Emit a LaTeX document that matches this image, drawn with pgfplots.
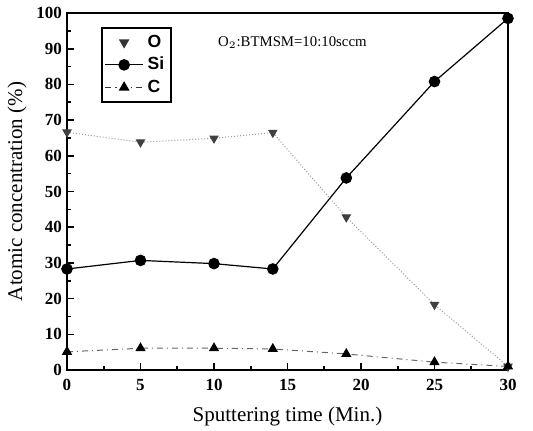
\documentclass[border=0pt]{standalone}
\usepackage{fontspec}
\setmainfont{Liberation Serif}
\newfontfamily\legfont{Liberation Sans}
\usepackage{pgfplots}
\pgfplotsset{compat=1.18}
\begin{document}
\begin{tikzpicture}
\begin{axis}[
  scale only axis,
  width=220.5pt, height=178.5pt,
  xmin=0, xmax=30, ymin=0, ymax=100,
  xtick={0,5,...,30}, ytick={0,10,...,100},
  minor x tick num=1, minor y tick num=1,
  xtick pos=bottom, ytick pos=left,
  tick align=inside,
  major tick length=3.5pt, minor tick length=2pt,
  axis line style={line width=1pt},
  every tick/.style={line width=0.8pt, black},
  /pgf/number format/assume math mode=true,
  tick label style={font=\fontsize{8.5}{10}\selectfont\bfseries},
  xticklabel style={yshift=-1pt},
  yticklabel style={xshift=1pt},
  label style={font=\fontsize{10.5}{12}\selectfont},
  xlabel={Sputtering time (Min.)},
  ylabel={Atomic concentration (\%)},
  xlabel style={yshift=-1.5pt},
  ylabel style={yshift=-2pt},
  legend style={at={(rel axis cs:0.077,0.961)}, anchor=north west,
    draw=black, line width=0.8pt, font=\fontsize{8.8}{10}\selectfont\legfont\bfseries,
    inner sep=1.5pt, row sep=-0.5pt, legend cell align=left,
    /tikz/every even column/.append style={column sep=1pt}},
  legend image code/.code={\draw[mark repeat=2,mark phase=2,#1] plot coordinates {(0cm,0cm) (0.33cm,0cm) (0.66cm,0cm)};},
  clip=false,
]
% legend entries
\addlegendimage{only marks, mark=triangle*, mark size=2.3pt, mark options={rotate=180, fill=black!80, draw=black!80}}
\addlegendentry{O}
\addlegendimage{black, line width=0.6pt, mark=*, mark size=2.6pt}
\addlegendentry{Si}
\addlegendimage{black!80, line width=0.6pt, dash dot, mark=triangle*, mark size=2.5pt, mark options={solid, fill=black, draw=black}}
\addlegendentry{C}

% O
\addplot[forget plot, black!40, line width=0.5pt, densely dotted, mark=triangle*, mark size=2.3pt,
  mark options={solid, rotate=180, fill=black!75, draw=black!75}]
  coordinates {(0,66.6) (5,63.8) (10,64.9) (14,66.5) (19,42.8) (25,18.3) (30,1.0)};
% Si
\addplot[forget plot, black, line width=0.6pt, mark=*, mark size=2.6pt]
  coordinates {(0,28.3) (5,30.7) (10,29.8) (14,28.3) (19,53.8) (25,80.8) (30,98.5)};
% C
\addplot[forget plot, black!60, line width=0.5pt, dash dot, mark=triangle*, mark size=2.5pt,
  mark options={solid, fill=black, draw=black}]
  coordinates {(0,5.1) (5,6.1) (10,6.1) (14,5.9) (19,4.5) (25,2.2) (30,1.0)};

\node[anchor=west, inner sep=0pt, font=\fontsize{7.4}{9}\selectfont] at (axis cs:10.25,91.6) {O$_2$:BTMSM=10:10sccm};
\end{axis}
\pgfresetboundingbox
\path[use as bounding box] (-33.5pt,-30pt) rectangle (233pt,185pt);
\end{tikzpicture}
\end{document}
